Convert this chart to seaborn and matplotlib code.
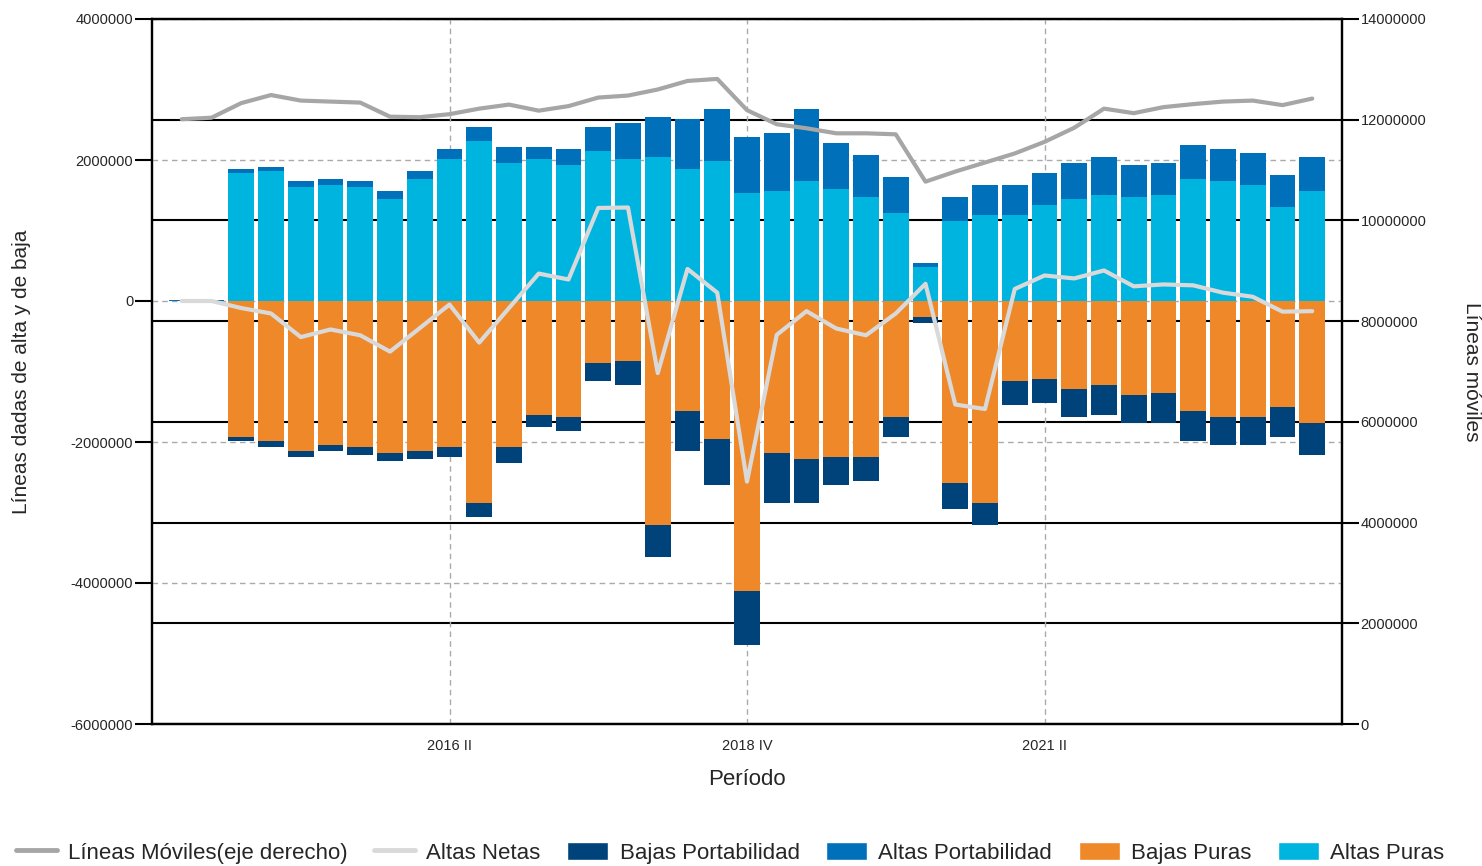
import numpy as np
import pandas as pd
import matplotlib
matplotlib.use("Agg")
import matplotlib.pyplot as plt
import seaborn as sns
from matplotlib.lines import Line2D
from matplotlib.patches import Patch
from matplotlib.ticker import FuncFormatter

# periodos trimestrales 2014 I .. 2023 III
periods = [f"{y} {q}" for y in range(2014, 2024) for q in ["I", "II", "III", "IV"]][:39]

altas_puras = [
    0, 0, 1810000, 1840000,
    1613000, 1641000, 1613000, 1443000,
    1726000, 2010000, 2265000, 1953000,
    2010000, 1925000, 2123000, 2010000,
    2038000, 1868000, 1982000, 1528000,
    1556000, 1698000, 1584000, 1471000,
    1244000, 478000, 1130000, 1215000,
    1215000, 1357000, 1443000, 1499000,
    1471000, 1499000, 1726000, 1698000,
    1641000, 1329000, 1556000,
]
altas_portabilidad = [
    20000, 20000, 58000, 56000,
    85000, 85000, 85000, 113000,
    114000, 141000, 199000, 227000,
    170000, 226000, 341000, 510000,
    568000, 709000, 737000, 794000,
    823000, 1021000, 653000, 596000,
    511000, 57000, 341000, 426000,
    426000, 454000, 510000, 539000,
    454000, 454000, 482000, 453000,
    454000, 454000, 482000,
]
bajas_puras = [
    0, 0, -1934000, -1991000,
    -2132000, -2047000, -2075000, -2161000,
    -2132000, -2075000, -2870000, -2075000,
    -1621000, -1650000, -884000, -855000,
    -3182000, -1565000, -1962000, -4118000,
    -2161000, -2246000, -2217000, -2217000,
    -1650000, -232000, -2586000, -2870000,
    -1139000, -1111000, -1253000, -1196000,
    -1338000, -1309000, -1565000, -1650000,
    -1650000, -1508000, -1735000,
]
bajas_portabilidad = [
    0, 0, -57000, -84000,
    -85000, -85000, -114000, -113000,
    -114000, -142000, -198000, -227000,
    -170000, -198000, -255000, -341000,
    -445000, -567000, -653000, -766000,
    -709000, -624000, -398000, -341000,
    -284000, -75000, -369000, -312000,
    -341000, -340000, -397000, -425000,
    -397000, -426000, -426000, -397000,
    -397000, -426000, -454000,
]
altas_netas = [
    0, 0, -100000, -177000,
    -512000, -404000, -486000, -718000,
    -385000, -50000, -590000, -100000,
    389000, 305000, 1320000, 1326000,
    -1023000, 455000, 118000, -2562000,
    -480000, -144000, -390000, -486000,
    -177000, 244000, -1468000, -1532000,
    170000, 362000, 320000, 433000,
    208000, 235000, 222000, 118000,
    60000, -151000, -144000,
]
lineas_moviles = [
    12010000, 12040000, 12330000, 12490000,
    12380000, 12360000, 12340000, 12060000,
    12050000, 12110000, 12220000, 12300000,
    12180000, 12270000, 12440000, 12480000,
    12600000, 12770000, 12810000, 12190000,
    11910000, 11830000, 11730000, 11730000,
    11710000, 10770000, 10970000, 11150000,
    11330000, 11560000, 11840000, 12220000,
    12130000, 12250000, 12310000, 12360000,
    12380000, 12290000, 12420000,
]
tick_periods = ["2016 II", "2018 IV", "2021 II"]

C_AP = "#00b4e0"
C_APORT = "#0070bb"
C_BPORT = "#00437a"
C_BP = "#ee8828"
C_LM = "#a6a6a6"
C_AN = "#d9d9d9"

df = pd.DataFrame({
    "pos": np.arange(len(periods)),
    "periodo": periods,
    "altas_puras": altas_puras,
    "altas_port": altas_portabilidad,
    "bajas_puras": bajas_puras,
    "bajas_port": bajas_portabilidad,
    "altas_netas": altas_netas,
    "lineas": lineas_moviles,
})

sns.set_style("white")
plt.rcParams["font.family"] = ["Liberation Sans", "DejaVu Sans"]

fig = plt.figure(figsize=(14.82, 8.66), dpi=100)
ax = fig.add_axes([152 / 1482, 1 - 724 / 866, 1190 / 1482, 705 / 866])
ax2 = ax.twinx()   # eje derecho, detras de las barras
ax3 = ax.twinx()   # linea de moviles, encima de las barras

ax.set_zorder(ax2.get_zorder() + 1)
ax.patch.set_visible(False)
ax3.set_zorder(ax.get_zorder() + 1)
ax3.patch.set_visible(False)

bar_kw = dict(x="pos", width=0.86, errorbar=None, saturation=1, linewidth=0, ax=ax)
sns.barplot(data=df, y="altas_puras", color=C_AP, **bar_kw)
sns.barplot(data=df, y="altas_port", color=C_APORT, bottom=df["altas_puras"].to_numpy(), **bar_kw)
sns.barplot(data=df, y="bajas_puras", color=C_BP, **bar_kw)
sns.barplot(data=df, y="bajas_port", color=C_BPORT, bottom=df["bajas_puras"].to_numpy(), **bar_kw)

sns.lineplot(data=df, x="pos", y="altas_netas", color=C_AN, linewidth=3, ax=ax)
sns.lineplot(data=df, x="pos", y="lineas", color=C_LM, linewidth=3, ax=ax3)

# limites y ticks
ax.set_xlim(-1, 39)
ax.set_ylim(-6000000, 4000000)
ax.set_yticks(np.arange(-6000000, 4000001, 2000000))
ax.yaxis.set_major_formatter(FuncFormatter(lambda v, p: f"{v:.0f}"))
ax.set_xticks([periods.index(p) for p in tick_periods])
ax.set_xticklabels(tick_periods)
ax.set_xticks([-1, 39], minor=True)

ax2.set_ylim(0, 14000000)
ax2.set_yticks(np.arange(0, 14000001, 2000000))
ax2.yaxis.set_major_formatter(FuncFormatter(lambda v, p: f"{v:.0f}"))
ax3.set_ylim(0, 14000000)
ax3.set_axis_off()

ax.set_axisbelow(True)
ax.grid(True, axis="both", which="major", color="#aaaaaa", linestyle=(0, (4, 3)), linewidth=1)
ax2.grid(True, axis="y", color="black", linestyle="-", linewidth=1.5)
ax2.grid(False, axis="x")

for a in (ax, ax2):
    for s in a.spines.values():
        s.set_color("black")
        s.set_linewidth(1.6)
        s.set_visible(True)

ax.tick_params(axis="y", direction="out", length=12, width=1.5, color="black", labelsize=10.5, pad=1.5)
ax.tick_params(axis="x", which="both", direction="out", length=7.5, width=1.5, color="black", labelsize=10.5, pad=3)
ax2.tick_params(axis="y", direction="out", length=12, width=1.5, color="black", labelsize=10.5, pad=1.5)

ax.set_xlabel("Período", fontsize=16, labelpad=12)
ax.set_ylabel("Líneas dadas de alta y de baja", fontsize=15)
ax.yaxis.set_label_coords(-0.1017, 0.5)
ax2.set_ylabel("Líneas móviles", fontsize=15, rotation=270, va="bottom")
ax2.yaxis.set_label_coords(1.101, 0.5)

handles = [
    Line2D([0], [0], color=C_LM, linewidth=3.5),
    Line2D([0], [0], color=C_AN, linewidth=3.5),
    Patch(facecolor=C_BPORT),
    Patch(facecolor=C_APORT),
    Patch(facecolor=C_BP),
    Patch(facecolor=C_AP),
]
labels = ["Líneas Móviles(eje derecho)", "Altas Netas", "Bajas Portabilidad",
          "Altas Portabilidad", "Bajas Puras", "Altas Puras"]
fig.legend(handles, labels, loc="center", bbox_to_anchor=(0.4926, 0.0155), ncol=6,
           frameon=False, fontsize=16, handlelength=1.85, handleheight=0.9,
           handletextpad=0.5, columnspacing=1.2)

fig.savefig("out.png", dpi=100)
